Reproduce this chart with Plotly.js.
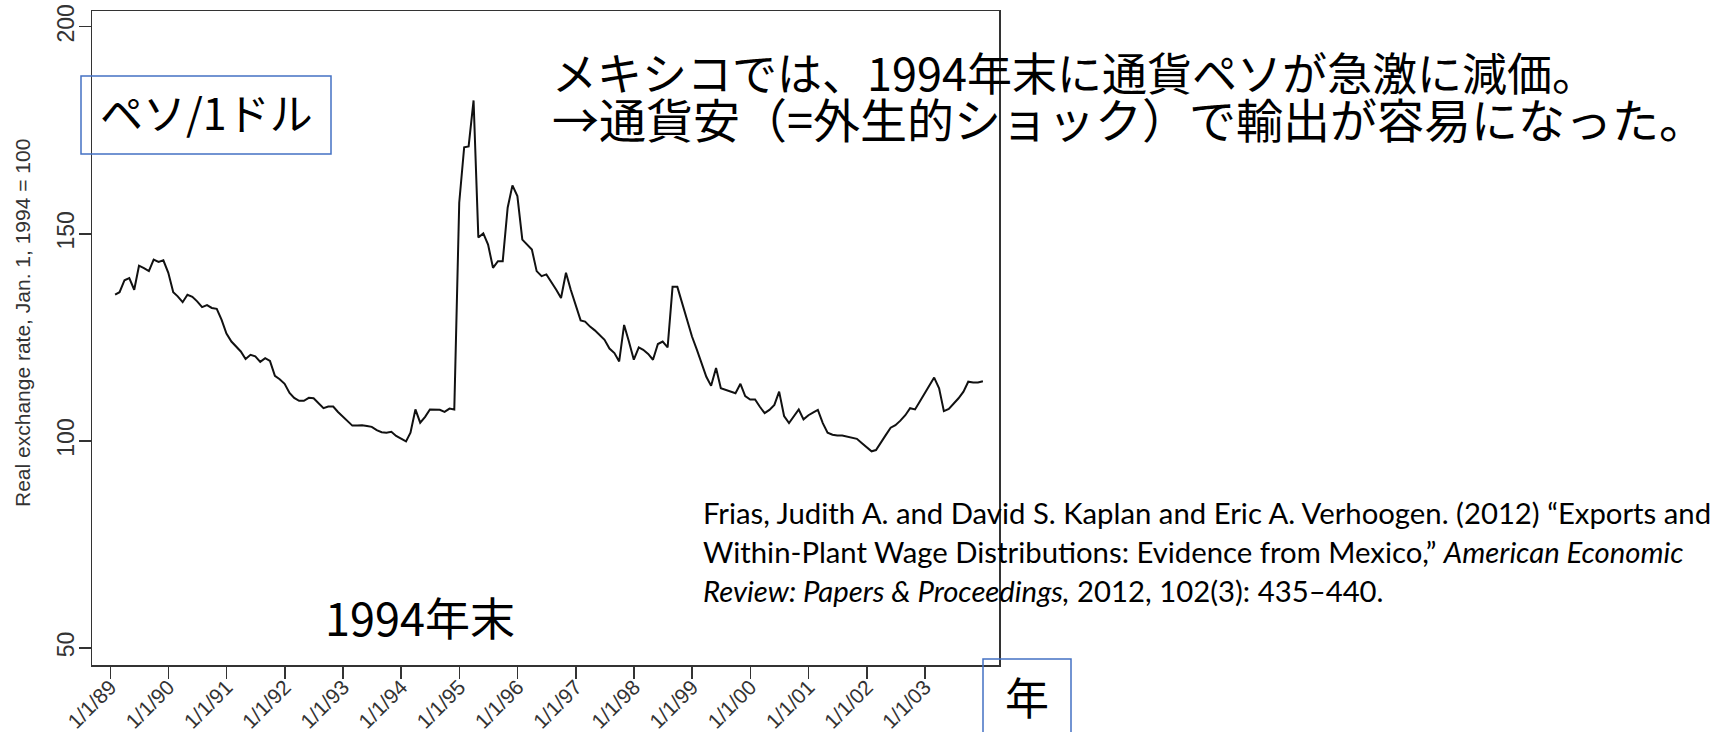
<!DOCTYPE html>
<html>
<head>
<meta charset="utf-8">
<script src="https://cdn.plot.ly/plotly-3.0.1.min.js"></script>
<style>
  html, body { margin: 0; padding: 0; background: #ffffff; overflow: hidden; }
  #chart { width: 1734px; height: 732px; }
</style>
</head>
<body>
<div id="chart"></div>
<script>
// ---- Data ----
// Monthly real exchange rate (Jan. 1, 1994 = 100), Jan 1989 .. Dec 2003
const startYear = 1989;
const values1989 = [135.3, 135.9, 138.8, 139.3, 136.5, 142.3, 141.7, 141.0, 143.8, 143.2, 143.6, 140.6];
const values1990 = [135.9, 134.9, 133.5, 135.3, 134.8, 133.7, 132.3, 132.8, 132.1, 131.9, 129.3, 125.9];
const values1991 = [124.0, 122.8, 121.6, 119.8, 120.8, 120.4, 119.1, 120.0, 119.3, 115.7, 114.9, 113.8];
const values1992 = [111.6, 110.4, 109.7, 109.7, 110.4, 110.3, 109.2, 107.9, 108.3, 108.3, 107.0, 105.8];
const values1993 = [104.8, 103.7, 103.7, 103.8, 103.6, 103.4, 102.6, 102.1, 102.0, 102.2, 101.2, 100.5];
const values1994 = [99.9, 102.0, 107.6, 104.4, 105.8, 107.6, 107.6, 107.5, 107.0, 107.8, 107.6, 157.5];
const values1995 = [170.9, 171.1, 182.2, 149.1, 150.1, 147.4, 141.8, 143.4, 143.4, 156.3, 161.7, 159.1];
const values1996 = [148.6, 147.4, 146.2, 141.0, 139.8, 140.2, 138.5, 136.5, 134.5, 140.6, 136.5, 132.5];
const values1997 = [129.1, 128.8, 127.6, 126.7, 125.4, 124.4, 122.3, 121.2, 119.2, 128.0, 124.0, 119.6];
const values1998 = [122.6, 122.0, 121.0, 119.6, 123.4, 124.0, 122.6, 137.2, 137.2, 133.3, 129.3, 125.2];
const values1999 = [122.0, 118.8, 115.5, 113.3, 117.6, 112.7, 112.3, 111.9, 111.5, 113.8, 110.8, 110.0];
const values2000 = [110.0, 108.3, 106.7, 107.5, 108.7, 111.9, 106.0, 104.3, 106.0, 107.6, 105.2, 106.2];
const values2001 = [106.9, 107.5, 104.3, 102.0, 101.5, 101.3, 101.3, 101.0, 100.7, 100.5, 99.5, 98.4];
const values2002 = [97.5, 97.8, 99.5, 101.4, 103.2, 103.8, 104.9, 106.2, 107.9, 107.6, 109.5, 111.5];
const values2003 = [113.4, 115.3, 112.7, 107.2, 107.7, 108.9, 110.3, 111.9, 114.3, 114.1, 114.1, 114.4];

const tickYears = [1989, 1990, 1991, 1992, 1993, 1994, 1995, 1996, 1997, 1998, 1999, 2000, 2001, 2002, 2003];
const tickLabels = ['1/1/89', '1/1/90', '1/1/91', '1/1/92', '1/1/93', '1/1/94', '1/1/95', '1/1/96',
                    '1/1/97', '1/1/98', '1/1/99', '1/1/00', '1/1/01', '1/1/02', '1/1/03'];
const yTicks = [50, 100, 150, 200];

const yTitle = 'Real exchange rate, Jan. 1, 1994 = 100';
const noteLine1 = 'メキシコでは、1994年末に通貨ペソが急激に減価。';
const noteLine2 = '→通貨安（=外生的ショック）で輸出が容易になった。';
const unitLabel = 'ペソ/1ドル';
const eventLabel = '1994年末';
const xUnitLabel = '年';
const citeLine1 = 'Frias, Judith A. and David S. Kaplan and Eric A. Verhoogen. (2012) “Exports and';
const citeLine2 = 'Within-Plant Wage Distributions: Evidence from Mexico,” <i>American Economic</i>';
const citeLine3 = '<i>Review: Papers &amp; Proceedings,</i> 2012, 102(3): 435–440.';

// ---- Build series ----
const yearly = [values1989, values1990, values1991, values1992, values1993, values1994, values1995,
                values1996, values1997, values1998, values1999, values2000, values2001, values2002, values2003];
const xs = [], ys = [];
function pad(n) { return (n < 10 ? '0' : '') + n; }
yearly.forEach((arr, yi) => {
  arr.forEach((v, m) => {
    // observation dated at month end
    const d = new Date(Date.UTC(startYear + yi, m + 1, 0));
    xs.push(d.getUTCFullYear() + '-' + pad(d.getUTCMonth() + 1) + '-' + pad(d.getUTCDate()));
    ys.push(v);
  });
});

// ---- Layout geometry (pixels) ----
const W = 1734, H = 732;
const PL = 92, PR = 999, PT = 11, PB = 665;
const px = p => (p - PL) / (PR - PL);
const py = p => (PB - p) / (PB - PT);

const tickFontX = { family: 'Liberation Sans, Arial, sans-serif', size: 21, color: '#333333' };
const tickFontY = { family: 'Liberation Sans, Arial, sans-serif', size: 23, color: '#333333' };
const titleFont = { family: 'Liberation Sans, Arial, sans-serif', size: 21, color: '#333333' };
const jpFont = (s) => ({ family: 'Noto Sans CJK JP, sans-serif', size: s, color: '#000000' });
const citeFont = { family: 'Lato, sans-serif', size: 29.3, color: '#000000' };

function ann(text, x, y, font, extra) {
  return Object.assign({
    text: text, xref: 'paper', yref: 'paper', x: px(x), y: py(y),
    xanchor: 'left', yanchor: 'middle', showarrow: false, font: font
  }, extra || {});
}

const annotations = [
  ann(yTitle, 22, 323, titleFont, { xanchor: 'center', textangle: -90 }),
  ann(noteLine1, 550, 71, jpFont(45)),
  ann(noteLine2, 550, 117, jpFont(47)),
  ann(unitLabel, 98, 111, jpFont(43)),
  ann(eventLabel, 323, 616, jpFont(45)),
  ann(xUnitLabel, 1027, 696, jpFont(44), { xanchor: 'center' }),
  ann(citeLine1, 701, 512, citeFont),
  ann(citeLine2, 701, 551, citeFont),
  ann(citeLine3, 701, 590, citeFont)
];

const boxLine = { color: '#4472C4', width: 1.5 };
const shapes = [
  { type: 'rect', xref: 'paper', yref: 'paper', x0: px(81), x1: px(331), y0: py(154), y1: py(76), line: boxLine, fillcolor: 'rgba(0,0,0,0)' },
  { type: 'rect', xref: 'paper', yref: 'paper', x0: px(983), x1: px(1071), y0: py(760), y1: py(659), line: boxLine, fillcolor: 'rgba(0,0,0,0)' }
];

const trace = {
  x: xs, y: ys, type: 'scatter', mode: 'lines',
  line: { color: '#111111', width: 2 }, hoverinfo: 'skip'
};

const layout = {
  width: W, height: H,
  margin: { l: PL, r: W - PR, t: PT, b: H - PB, pad: 0 },
  paper_bgcolor: '#ffffff', plot_bgcolor: '#ffffff',
  showlegend: false,
  xaxis: {
    type: 'date',
    range: ['1988-09-08', '2004-04-10'],
    tickmode: 'array',
    tickvals: tickYears.map(y => y + '-01-01'),
    ticktext: tickLabels,
    tickangle: -45,
    ticklabelstandoff: -12,
    ticks: 'outside', ticklen: 12, tickwidth: 1.5, tickcolor: '#333333',
    showline: true, mirror: true, linecolor: '#333333', linewidth: 1.5,
    showgrid: false, zeroline: false,
    tickfont: tickFontX
  },
  yaxis: {
    range: [45.9, 203.8],
    tickmode: 'array', tickvals: yTicks, ticktext: yTicks.map(String),
    tickangle: -90,
    ticklabelstandoff: -5,
    ticks: 'outside', ticklen: 12, tickwidth: 1.5, tickcolor: '#333333',
    showline: true, mirror: true, linecolor: '#333333', linewidth: 1.5,
    showgrid: false, zeroline: false,
    tickfont: tickFontY
  },
  annotations: annotations,
  shapes: shapes
};

Plotly.newPlot('chart', [trace], layout, { staticPlot: true, displayModeBar: false });
</script>
</body>
</html>
